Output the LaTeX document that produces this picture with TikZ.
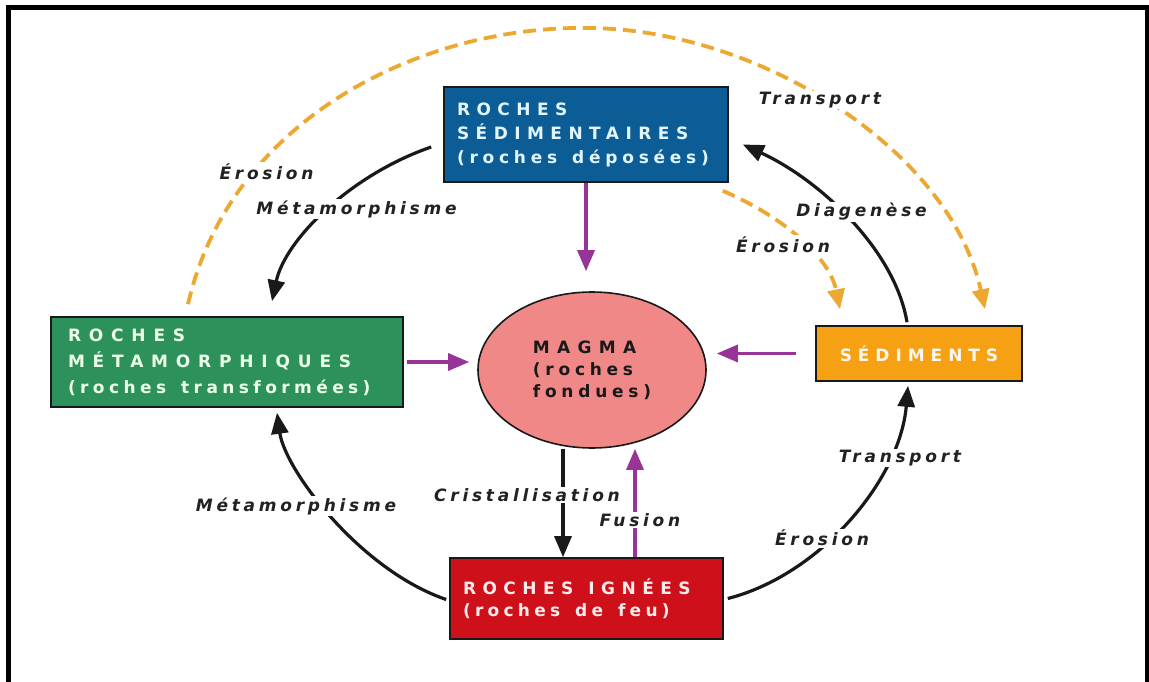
\documentclass[tikz,border=0pt]{standalone}
\usepackage{fontspec}
\setmainfont{DejaVu Sans}
\usetikzlibrary{arrows.meta,shapes.geometric}
\newfontfamily\rockfont{DejaVu Sans}
% one line of widely tracked text
\newcommand\lsp[2]{\mbox{\addfontfeature{LetterSpace=#1}#2}}
% word gap inside tracked text
\newcommand\wg{\hspace{15pt}}

\definecolor{sedblue}{RGB}{12,92,150}
\definecolor{metgreen}{RGB}{44,145,90}
\definecolor{magpink}{RGB}{241,136,136}
\definecolor{sdmorange}{RGB}{246,160,20}
\definecolor{ignred}{RGB}{206,16,26}
\definecolor{flowpurple}{RGB}{152,52,152}
\definecolor{dashorange}{RGB}{236,168,48}
\definecolor{labgray}{RGB}{34,34,34}

\tikzset{
  rock/.style={rectangle, draw=black!90, line width=1.6pt, inner ysep=0pt,
    font=\rockfont\bfseries\fontsize{17}{24}\selectfont},
  lab/.style={fill=white, inner sep=1.5pt, text=labgray,
    font={\rockfont\bfseries\itshape\fontsize{17}{20}\selectfont\addfontfeature{LetterSpace=22}}},
  blk/.style={draw=black!90, line width=3.2pt, -{Triangle[length=21pt,width=17pt]}},
  pur/.style={draw=flowpurple, line width=3.2pt, -{Triangle[length=21pt,width=17pt]}},
  dsh/.style={draw=dashorange, line width=3.8pt, dash pattern=on 13pt off 7pt,
    -{Triangle[length=20pt,width=17pt,fill=dashorange]}},
}

\begin{document}
\begin{tikzpicture}[x=1pt,y=-1pt]
% page and frame
\fill[white] (0,0) rectangle (1149,682);
\useasboundingbox (0,0) rectangle (1149,682);
\fill[black] (6,5) rectangle (1149,10);
\fill[black] (6,5) rectangle (11,682);
\fill[black] (1145,5) rectangle (1149,682);

% rock families
\node[rock, fill=sedblue, text=white!88!cyan, minimum width=284pt, minimum height=95pt,
      text width=258pt, inner xsep=13pt, align=left] (sed) at (586,134.5)
  {\lsp{38}{ROCHES}\\\lsp{38}{SÉDIMENTAIRES}\\\lsp{28}{(roches\wg déposées)}};
\node[rock, fill=metgreen, text=white!92!green, minimum width=352pt, minimum height=90pt,
      text width=318pt, inner xsep=17pt, align=left, font=\rockfont\bfseries\fontsize{17}{26}\selectfont] (met) at (227,362)
  {\lsp{46}{ROCHES}\\\lsp{46}{MÉTAMORPHIQUES}\\\lsp{26}{(roches\wg transformées)}};
\node[ellipse, draw=black!90, line width=1.6pt, fill=magpink, minimum width=228pt,
      minimum height=156pt, inner sep=0pt, align=left, text=black!90,
      font=\rockfont\bfseries\fontsize{17}{22}\selectfont] (mag) at (592,370)
  {\lsp{43}{MAGMA}\\\lsp{28}{(roches}\\\lsp{28}{fondues)}};
\node[rock, fill=sdmorange, text=white!94!orange, minimum width=206pt, minimum height=55pt,
      align=center] (sdm) at (919,353.5)
  {\lsp{35}{SÉDIMENTS}};
\node[rock, fill=ignred, text=white!92!red, minimum width=273pt, minimum height=81pt,
      text width=247pt, inner xsep=13pt, align=left, font=\rockfont\bfseries\fontsize{17}{22}\selectfont] (ign) at (586.5,598.5)
  {\lsp{38}{ROCHES\wg IGNÉES}\\\lsp{25}{(roches\wg de\wg feu)}};

% attachment points of the vertical arrows
\coordinate (crA) at ([xshift=-23.5pt]ign.north);
\coordinate (fuA) at ([xshift=48.5pt]ign.north);
\coordinate (arctop) at (590,28);

% dashed transport paths
\draw[dsh] ([xshift=-39pt,yshift=12pt]met.north)
  .. controls (230,120) and (420,25) .. (arctop)
  .. controls (760,30) and (950,150) .. ([xshift=66pt,yshift=16pt]sdm.north);
\draw[dsh] ([xshift=-6pt,yshift=-8pt]sed.south east)
  .. controls (790,220) and (830,260) .. ([xshift=-79pt,yshift=16pt]sdm.north);

% cycle arrows
\draw[blk] ([xshift=-12pt,yshift=-12.5pt]sed.west)
  .. controls (350,175) and (285,240) .. ([xshift=45pt,yshift=15pt]met.north);
\draw[blk] ([xshift=-3pt,yshift=-1pt]ign.west)
  .. controls (360,570) and (285,470) .. ([xshift=50pt,yshift=-5pt]met.south);
\draw[blk] ([xshift=4pt]ign.east)
  .. controls (820,575) and (900,480) .. ([xshift=-11pt,yshift=-4pt]sdm.south);
\draw[blk] ([xshift=-12pt,yshift=3pt]sdm.north)
  .. controls (895,250) and (820,180) .. ([xshift=14pt,yshift=-10pt]sed.east);

% melting towards the magma
\draw[pur, shorten >=20pt] (sed.south) -- (sed.south |- mag.north);
\draw[pur, shorten <=3pt, shorten >=8pt] (met.east) -- (met.east -| mag.west);
\draw[pur, shorten <=19pt, shorten >=10pt] (sdm.west) -- (sdm.west -| mag.east);
\draw[blk] (crA |- mag.south) -- (crA);
\draw[pur] (fuA) -- (fuA |- mag.south);

% process labels
\node[lab] (lEro1) at (266.5,172) {Érosion};
\node[lab] (lMet1) at (356.5,209) {Métamorphisme};
\node[lab] (lTra1) at (820,100) {Transport};
\node[lab] (lDia) at (861.5,212) {Diagenèse};
\node[lab] (lEro2) at (783,245) {Érosion};
\node[lab] (lCri) at (527,495) {Cristallisation};
\node[lab] (lFus) at (640,520) {Fusion};
\node[lab] (lMet2) at (296,506) {Métamorphisme};
\node[lab] (lTra2) at (900,458) {Transport};
\node[lab] (lEro3) at (822,538) {Érosion};
\end{tikzpicture}
\end{document}
